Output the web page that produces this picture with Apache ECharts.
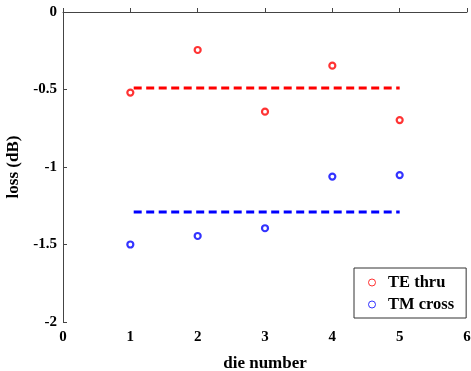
<!DOCTYPE html>
<html>
<head>
<meta charset="utf-8">
<script src="https://cdn.jsdelivr.net/npm/echarts@6/dist/echarts.min.js"></script>
<style>
html,body{margin:0;padding:0;background:#fff;}
#chart{width:471px;height:371px;}
</style>
</head>
<body>
<div id="chart"></div>
<script>
const dieNumbers = [1, 2, 3, 4, 5];
const teThru = [-0.52, -0.245, -0.643, -0.346, -0.697];
const tmCross = [-1.50, -1.445, -1.395, -1.062, -1.052];
const meanX = [1.05, 5];
const teMean = [-0.49, -0.49];
const tmMean = [-1.29, -1.29];
const xTicks = [0, 1, 2, 3, 4, 5, 6];
const yTicks = [0, -0.5, -1, -1.5, -2];

const font = '"Liberation Serif", "Times New Roman", serif';
const pair = (xs, ys) => xs.map((x, i) => [x, ys[i]]);

const chart = echarts.init(document.getElementById('chart'));
chart.setOption({
  animation: false,
  backgroundColor: '#fff',
  grid: {left: 63, right: 4, top: 12, bottom: 49, containLabel: false, outerBoundsMode: 'none'},
  xAxis: {
    type: 'value', min: 0, max: 6, interval: 1,
    name: 'die number', nameLocation: 'middle', nameGap: 33,
    nameTextStyle: {fontFamily: font, fontWeight: 'bold', fontSize: 17, color: '#000'},
    axisLine: {lineStyle: {color: '#444', width: 1}},
    axisTick: {inside: true, length: 4, lineStyle: {color: '#444'}},
    axisLabel: {fontFamily: font, fontWeight: 'bold', fontSize: 15, color: '#000', margin: 8,
      formatter: v => xTicks.includes(v) ? String(v) : ''},
    splitLine: {show: false}
  },
  yAxis: {
    type: 'value', min: -2, max: 0, interval: 0.5,
    name: 'loss (dB)', nameLocation: 'middle', nameGap: 37, nameRotate: 90,
    nameTextStyle: {fontFamily: font, fontWeight: 'bold', fontSize: 17, color: '#000'},
    axisLine: {lineStyle: {color: '#444', width: 1}},
    axisTick: {inside: true, length: 4, lineStyle: {color: '#444'}},
    axisLabel: {fontFamily: font, fontWeight: 'bold', fontSize: 15, color: '#000', margin: 6,
      formatter: v => yTicks.includes(v) ? String(v) : ''},
    splitLine: {show: false}
  },
  legend: {
    left: 354, top: 268,
    orient: 'vertical',
    backgroundColor: '#fff', borderColor: '#333', borderWidth: 1,
    padding: [6, 12, 5, 14], itemGap: 5,
    itemWidth: 12, itemHeight: 7,
    textStyle: {fontFamily: font, fontWeight: 'bold', fontSize: 16.5, color: '#000', padding: [0,0,0,5]},
    data: [
      {name: 'TE thru', icon: 'circle', itemStyle: {color: '#fff', borderColor: '#ff0000', borderWidth: 1}},
      {name: 'TM cross', icon: 'circle', itemStyle: {color: '#fff', borderColor: '#0000ff', borderWidth: 1}}
    ]
  },
  series: [
    {name: 'TE mean', type: 'line', data: pair(meanX, teMean), symbol: 'none',
      lineStyle: {color: '#ff0000', width: 3, type: [8, 4.5]}, z: 1},
    {name: 'TM mean', type: 'line', data: pair(meanX, tmMean), symbol: 'none',
      lineStyle: {color: '#0000ff', width: 3, type: [8, 4.5]}, z: 1},
    {name: 'TE thru', type: 'scatter', data: pair(dieNumbers, teThru), symbol: 'circle', symbolSize: 6,
      itemStyle: {color: '#fff', borderColor: '#ff0000', borderWidth: 2.2}, z: 3},
    {name: 'TM cross', type: 'scatter', data: pair(dieNumbers, tmCross), symbol: 'circle', symbolSize: 6,
      itemStyle: {color: '#fff', borderColor: '#0000ff', borderWidth: 2.2}, z: 3}
  ]
});
</script>
</body>
</html>
